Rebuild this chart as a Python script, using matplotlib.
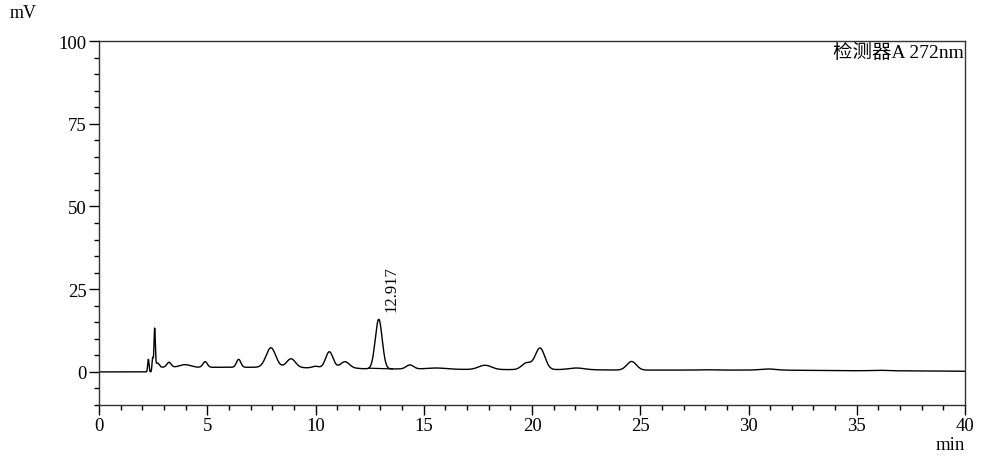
"""
HPLC chromatogram, detector A 272 nm, with the main peak labelled.
"""
import numpy as np
import matplotlib
matplotlib.use("Agg")
import matplotlib.pyplot as plt
from matplotlib.ticker import MultipleLocator

# --- data ------------------------------------------------------------------
# baseline level changes: time (min), new level (mV), edge width (min)
step_times = [2.60, 9.30, 12.00, 16.50, 23.00, 33.00, 38.00]
step_levels = [1.40, 1.20, 0.90, 0.70, 0.55, 0.35, 0.20]
step_widths = [0.04, 0.40, 0.40, 0.80, 1.00, 1.50, 1.00]

# peaks above baseline: retention time (min), height (mV), sigma (min)
peak_rt = [2.28, 2.48, 2.57, 2.70, 3.23, 3.97, 4.90, 6.45, 7.94, 8.87,
           10.00, 10.64, 11.36, 12.92, 14.36, 15.60, 17.83, 19.75, 20.37,
           22.06, 24.60, 28.00, 30.90, 36.00]
peak_height = [3.8, 4.2, 12.6, 1.3, 1.5, 0.8, 1.7, 2.4, 5.9, 2.6,
               0.5, 4.9, 1.9, 15.0, 1.2, 0.3, 1.3, 2.0, 6.5,
               0.5, 2.6, 0.1, 0.35, 0.15]
peak_sigma = [0.030, 0.030, 0.030, 0.080, 0.100, 0.250, 0.100, 0.100, 0.220,
              0.200, 0.150, 0.170, 0.200, 0.160, 0.170, 0.400, 0.300, 0.220,
              0.220, 0.350, 0.220, 0.300, 0.350, 0.300]

labelled_rt = 12.917
labelled_text = "12.917"
int_start, int_end = 12.45, 13.55   # integration baseline of labelled peak

y_ticks = [0, 25, 50, 75, 100]
x_ticks = [0, 5, 10, 15, 20, 25, 30, 35, 40]


def trace(t):
    """Detector signal built from the baseline steps and the peak table."""
    t = np.asarray(t, dtype=float)
    y = np.zeros_like(t)
    prev = 0.0
    for tt, lv, w in zip(step_times, step_levels, step_widths):
        y += (lv - prev) * 0.5 * (1 + np.tanh((t - tt) / w))
        prev = lv
    for rt, h, s in zip(peak_rt, peak_height, peak_sigma):
        y += h * np.exp(-0.5 * ((t - rt) / s) ** 2)
    return y


serif = ["Liberation Serif", "Noto Sans CJK SC", "DejaVu Sans"]
plt.rcParams["font.family"] = serif

fig = plt.figure(figsize=(10.07, 4.64), dpi=100)
ax = fig.add_axes([99 / 1007, 1 - 406 / 464, 866 / 1007, 364 / 464])

t = np.linspace(0, 40, 8001)
ax.plot(t, trace(t), color="black", lw=1.0)

# integration baseline under the labelled peak
ax.plot([int_start, int_end], trace([int_start, int_end]), color="black", lw=0.9)
ax.text(labelled_rt + 0.58, trace(labelled_rt) + 2.6, labelled_text,
        rotation=90, ha="center", va="bottom", fontsize=12)

ax.set_xlim(0, 40)
ax.set_ylim(-10, 100)
ax.set_xticks(x_ticks)
ax.set_yticks(y_ticks)
ax.xaxis.set_minor_locator(MultipleLocator(1))
ax.yaxis.set_minor_locator(MultipleLocator(5))
ax.tick_params(which="major", direction="out", length=7, width=1,
               labelsize=13.5, pad=2)
ax.tick_params(which="minor", direction="out", length=3.5, width=1)
for sp in ax.spines.values():
    sp.set_linewidth(1.0)
    sp.set_color("#333333")

ax.text(0.999, 0.995, "检测器A 272nm", transform=ax.transAxes,
        ha="right", va="top", fontsize=14)
fig.text(10 / 1007, 1 - 14 / 464, "mV", ha="left", va="center", fontsize=13)
fig.text(965 / 1007, 1 - 446 / 464, "min", ha="right", va="center",
         fontsize=13.5)

fig.savefig("out.png", dpi=100)
